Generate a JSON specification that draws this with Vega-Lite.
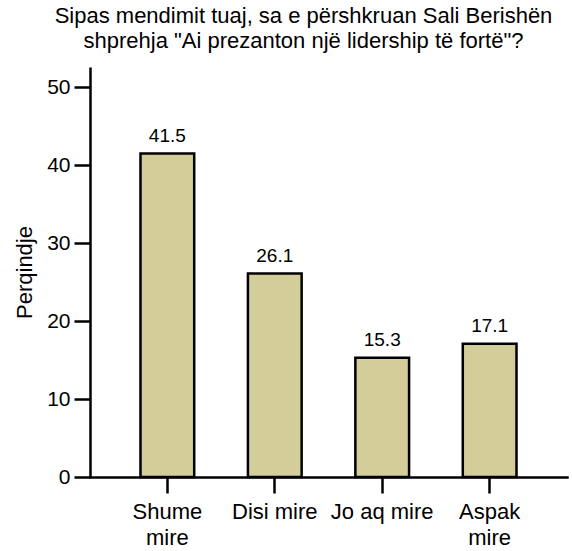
{
  "$schema": "https://vega.github.io/schema/vega-lite/v6.json",
  "autosize": "none",
  "padding": {"left": 90, "top": 67, "right": 5, "bottom": 74},
  "width": 477,
  "height": 410,
  "background": "white",
  "title": {
    "text": ["Sipas mendimit tuaj, sa e përshkruan Sali Berishën", "shprehja \"Ai prezanton një lidership të fortë\"?"],
    "font": "Liberation Sans",
    "fontSize": 22,
    "fontWeight": "normal",
    "color": "black",
    "anchor": "middle",
    "dx": -25,
    "offset": 14,
    "lineHeight": 25
  },
  "data": {
    "values": [
      {"cat": "Shume mire", "pct": 41.5},
      {"cat": "Disi mire", "pct": 26.1},
      {"cat": "Jo aq mire", "pct": 15.3},
      {"cat": "Aspak mire", "pct": 17.1}
    ]
  },
  "encoding": {
    "x": {
      "field": "cat",
      "type": "nominal",
      "sort": null,
      "scale": {"paddingInner": 0.5, "paddingOuter": 0.47},
      "axis": {
        "title": null,
        "labelAngle": 0,
        "labelFont": "Liberation Sans",
        "labelFontSize": 22,
        "labelColor": "black",
        "labelPadding": 8,
        "labelLineHeight": 26,
        "labelExpr": "datum.value == 'Shume mire' || datum.value == 'Aspak mire' ? split(datum.value, ' ') : datum.value",
        "domainColor": "black",
        "domainWidth": 2.5,
        "tickColor": "black",
        "tickWidth": 2.5,
        "tickSize": 16,
        "domainCap": "square"
      }
    },
    "y": {
      "field": "pct",
      "type": "quantitative",
      "scale": {"domain": [0, 52.6], "nice": false},
      "axis": {
        "title": "Perqindje",
        "titleFont": "Liberation Sans",
        "titleFontSize": 22,
        "titleFontWeight": "normal",
        "titleColor": "black",
        "titlePadding": 10,
        "values": [0, 10, 20, 30, 40, 50],
        "grid": false,
        "labelFont": "Liberation Sans",
        "labelFontSize": 21,
        "labelColor": "black",
        "labelPadding": 4,
        "domainColor": "black",
        "domainWidth": 2.5,
        "tickColor": "black",
        "tickWidth": 2.5,
        "tickSize": 16
      }
    }
  },
  "layer": [
    {
      "mark": {"type": "bar", "fill": "#d3ce99", "stroke": "black", "strokeWidth": 2.5}
    },
    {
      "mark": {"type": "text", "baseline": "alphabetic", "dy": -12, "font": "Liberation Sans", "fontSize": 19, "color": "black"},
      "encoding": {"text": {"field": "pct", "type": "quantitative", "format": ".1f"}}
    }
  ],
  "config": {"view": {"stroke": null}}
}
